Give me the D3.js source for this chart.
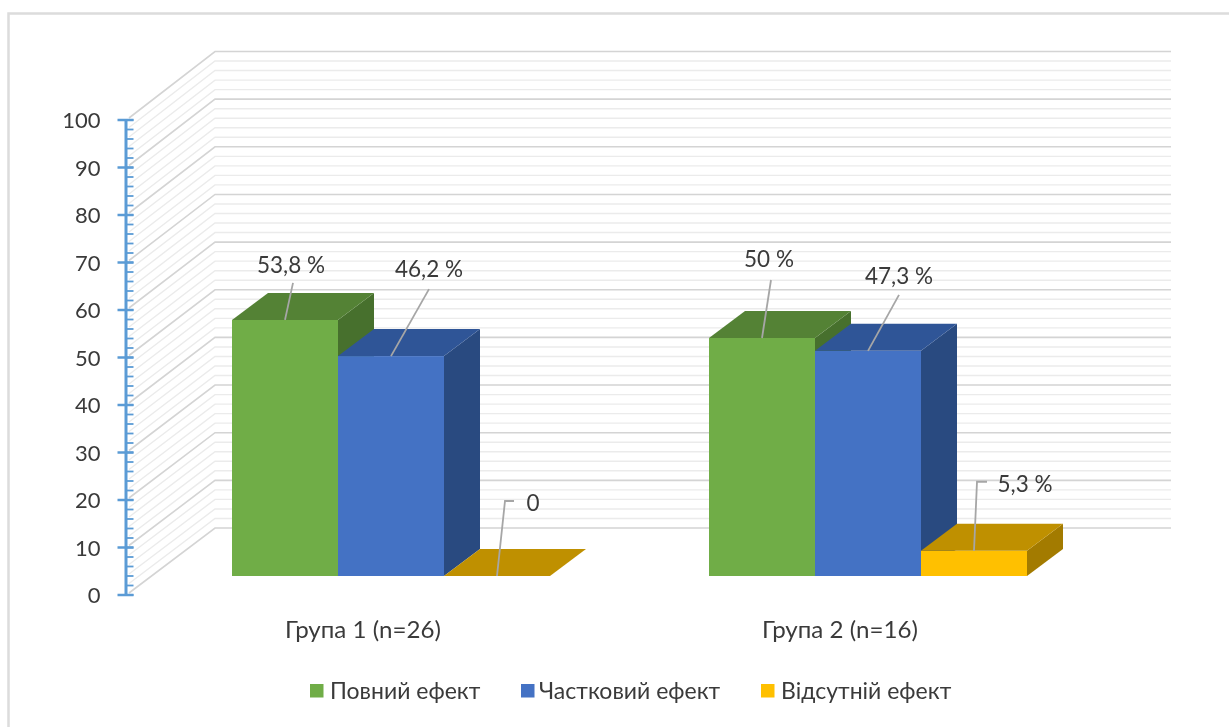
<!DOCTYPE html>
<html lang="uk"><head><meta charset="utf-8">
<script src="https://cdn.jsdelivr.net/npm/d3@7/dist/d3.min.js"></script>
<style>html,body{margin:0;padding:0;background:#fff}svg{display:block;filter:blur(.55px)}</style></head>
<body><svg id="c" width="1229" height="727"></svg>
<script>
const categories = ["Група 1 (n=26)", "Група 2 (n=16)"];
const seriesNames = ["Повний ефект", "Частковий ефект", "Відсутній ефект"];
const valuesGroup1 = [53.8, 46.2, 0];
const valuesGroup2 = [50, 47.3, 5.3];
const labelsGroup1 = ["53,8 %", "46,2 %", "0"];
const labelsGroup2 = ["50 %", "47,3 %", "5,3 %"];
const yTicks = d3.range(0, 101, 10);
const yMinor = d3.range(0, 101, 2);

const frontColors = ["#70ad47", "#4472c4", "#ffc000"];
const topColors   = ["#548235", "#2f5597", "#bf9000"];
const sideColors  = ["#47702d", "#294a80", "#a37b00"];

// leader layout: [elbowDx, elbowDy, endDx, endDy, labelDx, labelDy] from the bar's top-front centre
const leaders1 = [[8,-37,8,-37,6,-55],[38,-67,38,-67,38,-87],[8,-75,17,-75,36,-73]];
const leaders2 = [[9,-58,9,-58,7,-79],[31,-56,31,-56,31,-75],[3,-69,13,-69,51,-67]];

const svg = d3.select("#c");
const FONT = "Lato, 'Open Sans', sans-serif", TXT = "#3a3a3a";
const depth = {x: 36, y: -27};
const wall = {x0: 215, x1: 1171, side: 129};

const yAxisScale = d3.scaleLinear().domain([0, 100]).range([595, 120]);
const backY = d3.scaleLinear().domain([0, 100]).range([528, 51.5]);
const barH = d3.scaleLinear().domain([0, 100]).range([0, 476]);
const baseY = 576;
const barX = d3.scaleBand().domain(seriesNames).range([0, 318]);

// card border
svg.append("path").attr("d", "M1229 13.5H8.5V727").attr("fill", "none").attr("stroke", "#dcdcdc").attr("stroke-width", 2.5);

// walls: minor and major gridlines
const minorVals = yMinor.filter(v => v % 10 !== 0);
const gridPath = v => `M${wall.side},${yAxisScale(v) - 2}L${wall.x0},${backY(v)}L${wall.x1},${backY(v)}`;
svg.append("g").selectAll("path").data(minorVals).join("path")
  .attr("d", gridPath).attr("fill", "none").attr("stroke", "#ebebeb").attr("stroke-width", 1.4);
svg.append("g").selectAll("path").data(yTicks).join("path")
  .attr("d", gridPath).attr("fill", "none").attr("stroke", "#d4d4d4").attr("stroke-width", 1.6);

// y axis
const axis = d3.axisLeft(yAxisScale).tickValues(yTicks).tickSize(0).tickPadding(25).tickFormat(d3.format("d"));
const ag = svg.append("g").attr("transform", "translate(125.5,0)").call(axis);
ag.select(".domain").attr("stroke", "#5b9bd5").attr("stroke-width", 3);
ag.selectAll("text").attr("font-family", FONT).attr("font-size", 22).attr("fill", TXT).attr("dy", "0.36em");
ag.selectAll("line.minor").data(yMinor).join("line").attr("class", "minor")
  .attr("x1", 0).attr("x2", 8).attr("y1", d => yAxisScale(d)).attr("y2", d => yAxisScale(d))
  .attr("stroke", "#5b9bd5").attr("stroke-width", 1.8);
ag.selectAll("line.major").data(yTicks).join("line").attr("class", "major")
  .attr("x1", -8).attr("x2", 8).attr("y1", d => yAxisScale(d)).attr("y2", d => yAxisScale(d))
  .attr("stroke", "#5b9bd5").attr("stroke-width", 2.5);

// bars
const allValues = [valuesGroup1, valuesGroup2], allLabels = [labelsGroup1, labelsGroup2], allLeaders = [leaders1, leaders2];
const starts = [232, 709];
const poly = pts => pts.map(p => p.join(",")).join(" ");
const labelItems = [];
categories.forEach((cat, g) => {
  const G = svg.append("g");
  seriesNames.forEach((s, i) => {
    const v = allValues[g][i], x0 = starts[g] + barX(s), x1 = x0 + barX.bandwidth(), yt = baseY - barH(v);
    if (v > 0) {
      G.append("polygon").attr("points", poly([[x1, yt], [x1 + depth.x, yt + depth.y], [x1 + depth.x, baseY + depth.y], [x1, baseY]])).attr("fill", sideColors[i]);
      G.append("rect").attr("x", x0).attr("y", yt).attr("width", barX.bandwidth()).attr("height", barH(v)).attr("fill", frontColors[i]);
    }
    G.append("polygon").attr("points", poly([[x0, yt], [x0 + depth.x, yt + depth.y], [x1 + depth.x, yt + depth.y], [x1, yt]])).attr("fill", topColors[i]);
    labelItems.push({cx: (x0 + x1) / 2, yt, text: allLabels[g][i], l: allLeaders[g][i]});
  });
  // category label
  svg.append("text").attr("x", starts[g] + 131).attr("y", 630).attr("dy", ".35em").attr("text-anchor", "middle")
    .attr("font-family", FONT).attr("font-size", 23).attr("fill", TXT).attr("textLength", 156).attr("lengthAdjust", "spacingAndGlyphs").text(cat);
});

// data labels with leader lines
labelItems.forEach(d => {
  const [ex, ey, fx, fy, lx, ly] = d.l;
  svg.append("path").attr("d", `M${d.cx},${d.yt}L${d.cx + ex},${d.yt + ey}L${d.cx + fx},${d.yt + fy}`)
    .attr("fill", "none").attr("stroke", "#a6a6a6").attr("stroke-width", 1.8);
  svg.append("text").attr("x", d.cx + lx).attr("y", d.yt + ly).attr("dy", ".35em").attr("text-anchor", "middle")
    .attr("font-family", FONT).attr("font-size", 22.5).attr("fill", TXT).text(d.text);
});

// legend
const legendX = [310, 521, 761];
seriesNames.forEach((s, i) => {
  svg.append("rect").attr("x", legendX[i]).attr("y", 684).attr("width", 13.5).attr("height", 13.5).attr("fill", frontColors[i]);
  svg.append("text").attr("x", legendX[i] + (i === 2 ? 20 : i === 1 ? 18 : 20)).attr("y", 691).attr("dy", ".35em")
    .attr("font-family", FONT).attr("font-size", 23).attr("fill", TXT).text(s);
});
</script></body></html>
